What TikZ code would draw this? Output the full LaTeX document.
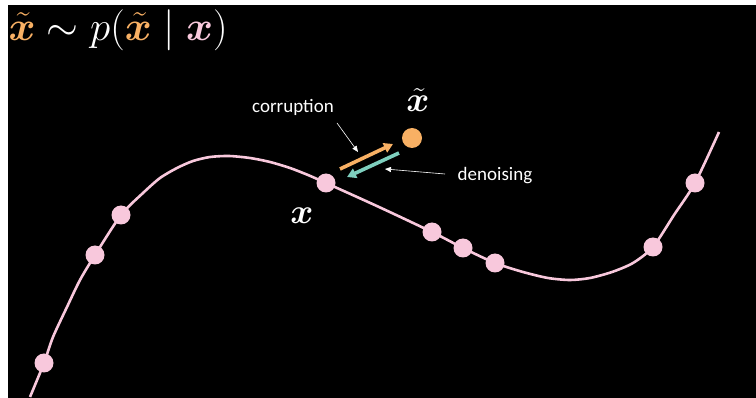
\documentclass[tikz,border=0pt]{standalone}
\usepackage{fix-cm}
\usepackage{amsmath,bm}
\usepackage{fontspec}
\newfontfamily\labelfont{Carlito}
\usetikzlibrary{arrows.meta}
\definecolor{curvepink}{HTML}{F8C8DC}
\definecolor{noisyorange}{HTML}{F8B064}
\definecolor{denoiseteal}{HTML}{7ECFBE}
\tikzset{
  sample/.style={circle, fill=curvepink, inner sep=0pt, minimum size=19pt},
  noisy/.style={circle, fill=noisyorange, inner sep=0pt, minimum size=20pt},
  thickarrow/.style={line width=3.6pt, -{Triangle[length=9pt,width=10pt]}},
  pointer/.style={white, line width=0.6pt, -{Triangle[length=6pt,width=5pt]}},
  caption/.style={text=white, font=\labelfont\fontsize{19}{22}\selectfont},
  mathlabel/.style={text=white, font=\fontsize{35}{40}\selectfont},
  titlelabel/.style={text=white, font=\fontsize{41}{47}\selectfont}
}
\begin{document}
\begin{tikzpicture}[x=1pt, y=-1pt]
  \useasboundingbox (0,0) rectangle (756,398);
  \fill[white] (0,0) rectangle (756,398);
  \fill[black] (8,5) rectangle (756,398);

  % data manifold
  \draw[curvepink, line width=2.6pt] plot[smooth, tension=0.45] coordinates {
    (30,397) (44,363) (53,337) (67,307) (80,280) (95,255) (121,215)
    (143,193) (160,178) (177,168) (193,161) (210,157) (229,156) (250,158)
    (270,162) (290,168) (308,175) (326,183) (379,207)
    (432,232) (463,248) (495,263) (523,272) (548,278) (570,280) (590,278)
    (612,272) (633,263) (653,247) (674,215) (695,183) (719,132)};

  % samples on the manifold
  \node[sample] (s1) at (44,363) {};
  \node[sample] (s2) at (95,255) {};
  \node[sample] (s3) at (121,215) {};
  \node[sample] (x)  at (326,183) {};
  \node[sample] (s5) at (432,232) {};
  \node[sample] (s6) at (463,248) {};
  \node[sample] (s7) at (495,263) {};
  \node[sample] (s8) at (653,247) {};
  \node[sample] (s9) at (695,183) {};

  % corrupted sample
  \node[noisy] (xt) at (412,138) {};

  % labels
  \node[titlelabel, anchor=west] (title) at (5,30)
    {$\color{noisyorange}\bm{\tilde{x}}\color{white}\sim p(\color{noisyorange}\bm{\tilde{x}}\color{white}\mid\color{curvepink}\bm{x}\color{white})$};
  \node[mathlabel] (xlab) at (302,216) {$\bm{x}$};
  \node[mathlabel] (xtlab) at (418,100) {$\bm{\tilde{x}}$};
  \node[caption] (corr) at (293,107) {corruption};
  \node[caption] (den) at (495,176) {denoising};

  % corruption / denoising arrows
  \coordinate (c0) at (340,169);
  \coordinate (c1) at (393,144);
  \coordinate (d0) at (399,153);
  \coordinate (d1) at (347,177);
  \draw[thickarrow, noisyorange] (c0) -- (c1);
  \draw[thickarrow, denoiseteal] (d0) -- (d1);

  % pointers from the captions
  \coordinate (cp0) at (337,123);
  \coordinate (cp1) at (358,152);
  \coordinate (dp0) at (445,174);
  \coordinate (dp1) at (385,169);
  \draw[pointer] (cp0) -- (cp1);
  \draw[pointer] (dp0) -- (dp1);
\end{tikzpicture}
\end{document}
